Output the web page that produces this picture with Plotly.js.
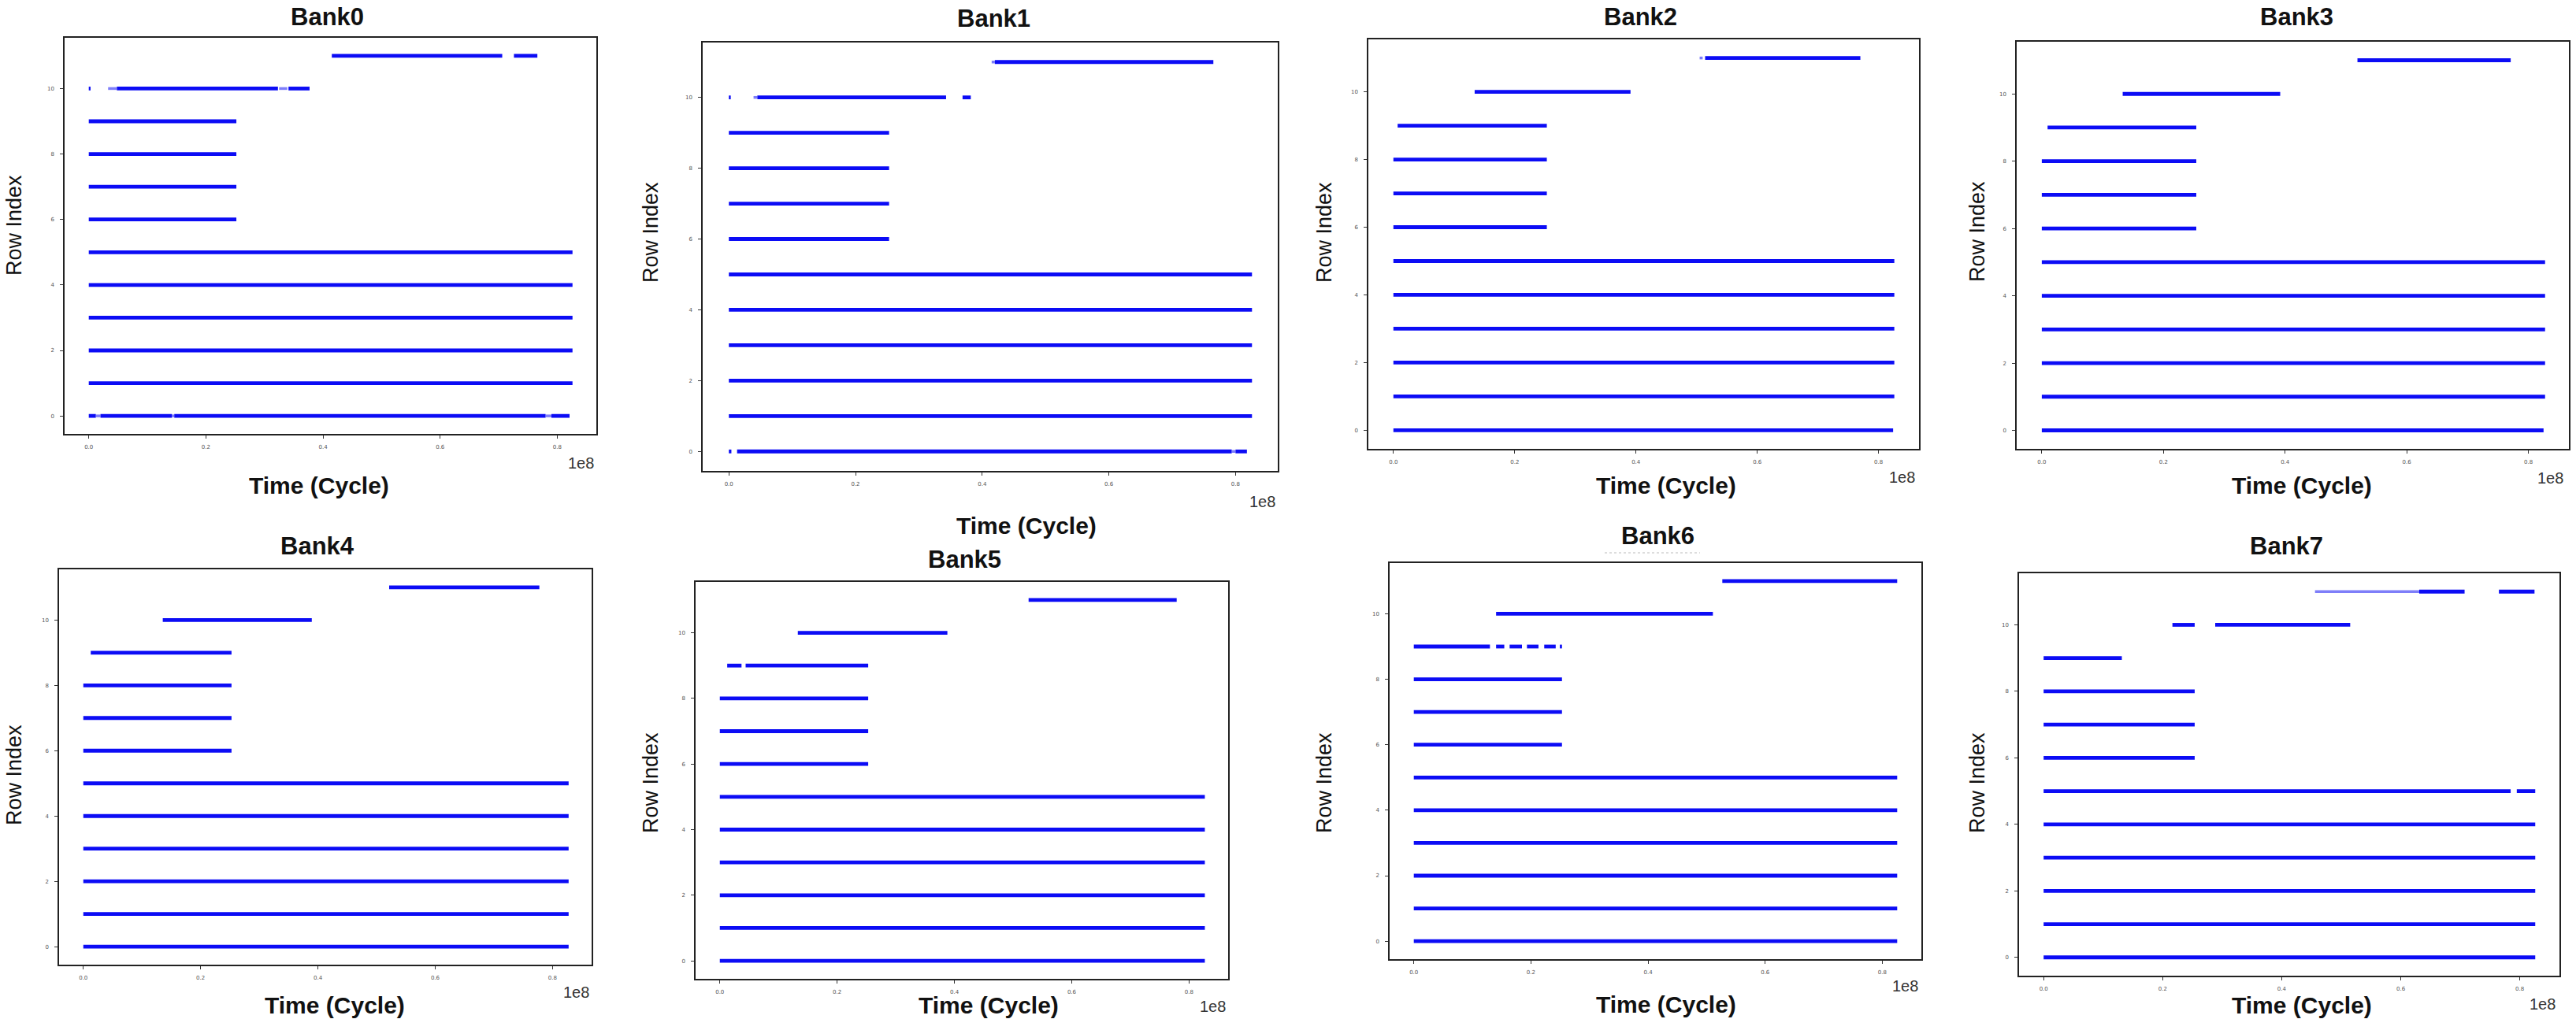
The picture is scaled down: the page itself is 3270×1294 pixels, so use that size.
<!DOCTYPE html>
<html>
<head>
<meta charset="utf-8">
<script src="https://cdn.plot.ly/plotly-3.0.1.min.js"></script>
<style>html,body{margin:0;padding:0;background:#fff;}#chart{width:3270px;height:1294px;}</style>
</head>
<body>
<div id="chart"></div>
<script>
// ---- DATA (time values in units of 1e8 cycles; [row, start, end]) ----
const bankNames = ["Bank0","Bank1","Bank2","Bank3","Bank4","Bank5","Bank6","Bank7"];
const xTickVals = [0.0, 0.2, 0.4, 0.6, 0.8];
const xTickText = ["0.0", "0.2", "0.4", "0.6", "0.8"];
const yTickVals = [0, 2, 4, 6, 8, 10];
const yTickText = ["0", "2", "4", "6", "8", "10"];
const xExponentLabel = "1e8";

const bank0Segments = [
  [0,0,0.012],[0,0.02,0.142],[0,0.146,0.78],[0,0.79,0.821],
  [1,0,0.826],[2,0,0.826],[3,0,0.826],[4,0,0.826],[5,0,0.826],
  [6,0,0.252],[7,0,0.252],[8,0,0.252],[9,0,0.252],
  [10,0,0.003],[10,0.048,0.323],[10,0.341,0.377],
  [11,0.415,0.706],[11,0.726,0.766]
];
const bank0Faint = [[10,0.033,0.048],[10,0.325,0.339],[0,0.012,0.02],[0,0.142,0.146],[0,0.78,0.79]];

const bank1Segments = [
  [0,0,0.004],[0,0.013,0.794],[0,0.8,0.818],
  [1,0,0.826],[2,0,0.826],[3,0,0.826],[4,0,0.826],[5,0,0.826],
  [6,0,0.253],[7,0,0.253],[8,0,0.253],[9,0,0.253],
  [10,0,0.003],[10,0.045,0.343],[10,0.369,0.382],
  [11,0.42,0.765]
];
const bank1Faint = [[10,0.039,0.045],[11,0.415,0.42],[0,0.794,0.8]];

const bank2Segments = [
  [0,0,0.824],[1,0,0.826],[2,0,0.826],[3,0,0.826],[4,0,0.826],[5,0,0.826],
  [6,0,0.253],[7,0,0.253],[8,0,0.253],[9,0.007,0.253],
  [10,0.134,0.391],[11,0.514,0.77]
];
const bank2Faint = [[11,0.505,0.51]];

const bank3Segments = [
  [0,0,0.825],[1,0,0.8275],[2,0,0.8275],[3,0,0.8275],[4,0,0.8275],[5,0,0.8275],
  [6,0,0.254],[7,0,0.254],[8,0,0.254],[9,0.0095,0.254],
  [10,0.133,0.392],[11,0.519,0.771]
];
const bank3Faint = [];

const bank4Segments = [
  [0,0,0.8275],[1,0,0.8275],[2,0,0.8275],[3,0,0.8275],[4,0,0.8275],[5,0,0.8275],
  [6,0,0.2527],[7,0,0.2527],[8,0,0.2527],[9,0.0127,0.2527],
  [10,0.1355,0.3896],[11,0.5215,0.7776]
];
const bank4Faint = [];

const bank5Segments = [
  [0,0,0.827],[1,0,0.827],[2,0,0.827],[3,0,0.827],[4,0,0.827],[5,0,0.827],
  [6,0,0.253],[7,0,0.253],[8,0,0.253],[9,0.0126,0.037],[9,0.044,0.253],
  [10,0.133,0.388],[11,0.5265,0.779]
];
const bank5Faint = [];

const bank6Segments = [
  [0,0,0.8254],[1,0,0.8254],[2,0,0.8254],[3,0,0.8254],[4,0,0.8254],[5,0,0.8254],
  [6,0,0.253],[7,0,0.253],[8,0,0.253],
  [9,0,0.130],[9,0.1405,0.1545],[9,0.1636,0.1847],[9,0.1932,0.2129],[9,0.2227,0.2423],[9,0.2494,0.253],
  [10,0.1405,0.5107],[11,0.5268,0.8254]
];
const bank6Faint = [];

const bank7Segments = [
  [0,0,0.826],[1,0,0.826],[2,0,0.826],[3,0,0.826],[4,0,0.826],
  [5,0,0.7847],[5,0.795,0.826],
  [6,0,0.2538],[7,0,0.2538],[8,0,0.2538],[9,0,0.1314],
  [10,0.2164,0.2538],[10,0.2883,0.5151],
  [11,0.631,0.7073],[11,0.765,0.8248]
];
const bank7Faint = [[11,0.456,0.631]];

const allSegments = [bank0Segments,bank1Segments,bank2Segments,bank3Segments,bank4Segments,bank5Segments,bank6Segments,bank7Segments];
const allFaint = [bank0Faint,bank1Faint,bank2Faint,bank3Faint,bank4Faint,bank5Faint,bank6Faint,bank7Faint];

// ---- LAYOUT GEOMETRY (pixel positions in the 3270x1294 figure) ----
const W = 3270, H = 1294;
const boxes = [ // [left, right, top, bottom]
  [82, 757, 48, 551],
  [892, 1622, 54, 598],
  [1737, 2436, 50, 570],
  [2560, 3261, 53, 570],
  [75, 751, 723, 1225],
  [883, 1559, 739, 1243],
  [1764, 2439, 715, 1218],
  [2563, 3249, 728, 1239]
];
const titlePos = [[416,22],[1261,23],[2082,22],[2915,22],[403,694],[1224,711],[2104,680],[2902,694]];
const xlabPos  = [[405,616],[1303,667],[2115,616],[2922,616],[425,1276],[1255,1276],[2115,1275],[2922,1276]];
const ylabPos  = [[18,286],[826,295],[1681,295],[2510,294],[18,984],[826,994],[1681,994],[2510,994]];
const expPos   = [[756,588],[1621,637],[2433,606],[3256,607],[750,1260],[1558,1278],[2437,1252],[3246,1275]];

const SCALE = 1e8;
const FONT = "Liberation Sans, Arial, Helvetica, sans-serif";
const BLUE = "rgb(12,12,245)";

function segXY(segs) {
  const x = [], y = [];
  segs.forEach(s => { x.push(s[1]*SCALE, s[2]*SCALE, null); y.push(s[0], s[0], null); });
  return {x, y};
}

const traces = [];
const layout = {
  width: W, height: H,
  margin: {l:0, r:0, t:0, b:0},
  paper_bgcolor: "#fff", plot_bgcolor: "#fff",
  showlegend: false,
  annotations: [],
  shapes: []
};

for (let i = 0; i < 8; i++) {
  const sfx = i === 0 ? "" : String(i+1);
  const xa = "x" + sfx, ya = "y" + sfx;
  if (allFaint[i].length) {
    const f = segXY(allFaint[i]);
    traces.push({type:"scatter", mode:"lines", x:f.x, y:f.y, xaxis:xa, yaxis:ya,
      line:{color:"rgba(40,40,245,0.6)", width:3.5}, hoverinfo:"skip"});
  }
  const s = segXY(allSegments[i]);
  traces.push({type:"scatter", mode:"lines", x:s.x, y:s.y, xaxis:xa, yaxis:ya,
    line:{color:BLUE, width:4.8}, hoverinfo:"skip"});
  const b = boxes[i];
  const axCommon = {
    showgrid:false, zeroline:false, showline:true, mirror:true,
    linecolor:"#222", linewidth:1.6,
    ticks:"outside", ticklen:4, tickwidth:1, tickcolor:"#333",
    tickfont:{family:"DejaVu Sans, sans-serif", size:7, color:"#555"},
    fixedrange:true
  };
  layout["xaxis"+sfx] = Object.assign({}, axCommon, {
    domain:[b[0]/W, b[1]/W], anchor:ya,
    range:[-0.0413*SCALE, 0.8667*SCALE],
    tickmode:"array", tickvals:xTickVals.map(v=>v*SCALE), ticktext:xTickText,
    ticklabelstandoff:5
  });
  layout["yaxis"+sfx] = Object.assign({}, axCommon, {
    domain:[1-b[3]/H, 1-b[2]/H], anchor:xa,
    range:[-0.55, 11.55],
    tickmode:"array", tickvals:yTickVals, ticktext:yTickText,
    ticklabelstandoff:6
  });
  layout.annotations.push({
    text:"<b>"+bankNames[i]+"</b>", xref:"paper", yref:"paper",
    x:titlePos[i][0]/W, y:1-titlePos[i][1]/H, xanchor:"center", yanchor:"middle",
    showarrow:false, font:{family:FONT, size:31, color:"#111"}
  });
  layout.annotations.push({
    text:"<b>Time (Cycle)</b>", xref:"paper", yref:"paper",
    x:xlabPos[i][0]/W, y:1-xlabPos[i][1]/H, xanchor:"center", yanchor:"middle",
    showarrow:false, font:{family:FONT, size:30, color:"#111"}
  });
  layout.annotations.push({
    text:"Row Index", xref:"paper", yref:"paper", textangle:-90,
    x:ylabPos[i][0]/W, y:1-ylabPos[i][1]/H, xanchor:"center", yanchor:"middle",
    showarrow:false, font:{family:FONT, size:27, color:"#111"}
  });
  layout.annotations.push({
    text:xExponentLabel, xref:"paper", yref:"paper",
    x:expPos[i][0]/W, y:1-expPos[i][1]/H, xanchor:"right", yanchor:"middle",
    showarrow:false, font:{family:FONT, size:20, color:"#333"}
  });
}

// faint dotted remnant below the Bank6 title
layout.shapes.push({type:"line", xref:"paper", yref:"paper",
  x0:2037/W, x1:2158/W, y0:1-702/H, y1:1-702/H,
  line:{color:"#bbb", width:1, dash:"dot"}});

Plotly.newPlot("chart", traces, layout, {staticPlot:true, displayModeBar:false});
</script>
</body>
</html>
